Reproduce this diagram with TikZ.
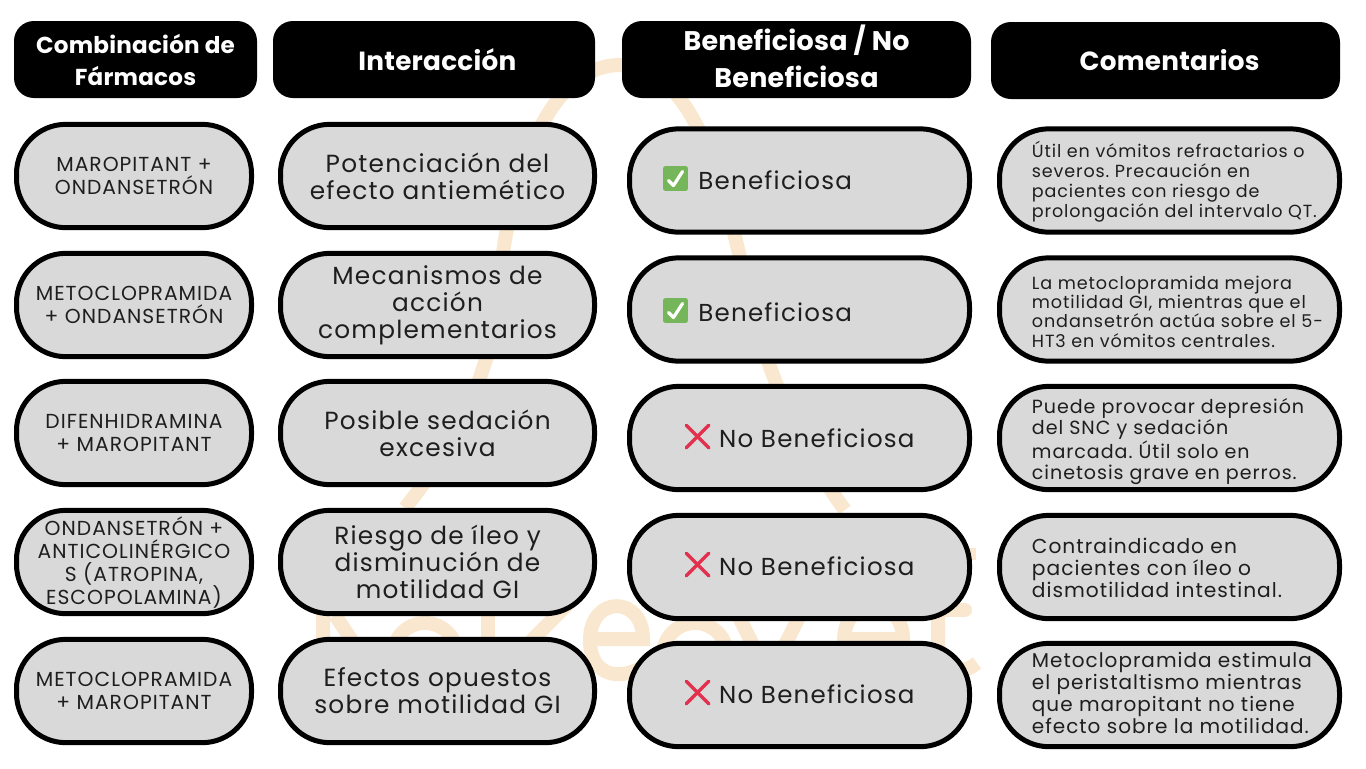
\documentclass[tikz,border=0pt]{standalone}
\usepackage{fontspec}
\usepackage{xcolor}
\usepackage{tikz}
\usetikzlibrary{positioning}
\setmainfont{Poppins}[LetterSpace=5]
\definecolor{pillgrey}{HTML}{D9D9D9}
\definecolor{inkgrey}{HTML}{1E1E1E}
\definecolor{paleorange}{HTML}{F9E8CF}
\definecolor{okgreen}{HTML}{76B65B}
\definecolor{nored}{HTML}{E3304E}
\tikzset{
    headbox/.style={fill=black, text=white, rounded corners=15pt, minimum height=57.75pt,
        align=center, inner sep=0pt, font=\bfseries\addfontfeature{LetterSpace=1}\fontsize{19.7}{27.75}\selectfont},
    headtext/.style={text=white, align=center, inner sep=0pt, font=\bfseries\addfontfeature{LetterSpace=1}\fontsize{20.2}{27.75}\selectfont},
    pillbox/.style={draw=black, line width=3.75pt, fill=pillgrey, text=inkgrey, rounded corners=37pt,
        minimum height=77.5pt, align=center, inner sep=0pt},
    drugbox/.style={pillbox, minimum width=176.25pt, font=\fontsize{15.2}{17.25}\selectfont},
    interbox/.style={pillbox, minimum width=235.5pt, font=\fontsize{18.6}{20.25}\selectfont},
    benefbox/.style={pillbox, minimum width=255pt},
    notebox/.style={pillbox, minimum width=255pt},
    notetext/.style={inner sep=0pt, align=left, text=inkgrey},
    okmark/.style={fill=okgreen, rounded corners=1.5pt, minimum size=18.5pt, inner sep=0pt},
    nomark/.style={minimum size=16.5pt, inner sep=0pt},
    marktext/.style={inner sep=0pt, yshift=-1pt, text=inkgrey, font=\fontsize{18.4}{22}\selectfont},
    okstroke/.style={draw=white, line width=2.4pt, line cap=round, line join=round},
    nostroke/.style={draw=nored, line width=2.6pt, line cap=round},
    wmark/.style={draw=paleorange, line width=10.5pt}
}
\newcommand{\okcheck}[1]{\draw[okstroke] ([shift={(-7,2)}]#1.center) -- ([shift={(-2,7)}]#1.center) -- ([shift={(7,-7)}]#1.center);}
\newcommand{\nocross}[1]{\draw[nostroke] (#1.north west) -- (#1.south east); \draw[nostroke] (#1.north east) -- (#1.south west);}
\frenchspacing
\begin{document}
\begin{tikzpicture}[x=0.75pt, y=-0.75pt]
    \useasboundingbox (0,0) rectangle (1366,768);

    % Watermark behind the table
    \draw[wmark] (405,508) .. controls (460,440) and (490,370) .. (498,300)
        .. controls (505,190) and (545,65) .. (620,65)
        .. controls (695,65) and (725,190) .. (745,280)
        .. controls (765,370) and (800,450) .. (845,510);
    \draw[wmark] (323,560) -- (323,680) (335,615) -- (375,675);
    \draw[wmark] (425,655) circle (32);
    \draw[wmark] (488,560) -- (488,680);
    \draw[wmark] (505,607) -- (565,607) -- (500,672) -- (565,672);
    \draw[wmark] (645,665) .. controls (625,680) and (590,680) .. (590,640)
        .. controls (590,595) and (643,595) .. (643,639) -- (590,639);
    \draw[wmark] (695,655) circle (32);
    \draw[wmark] (733,605) -- (769,677) -- (805,605);
    \draw[wmark] (905,665) .. controls (885,680) and (844,680) .. (844,640)
        .. controls (844,595) and (903,595) .. (903,639) -- (844,639);
    \draw[wmark] (938,545) -- (938,645) .. controls (938,672) and (960,677) .. (977,663);
    \draw[wmark, line cap=round] (925,610) -- (965,610);
    \draw[wmark] (969,548) -- (969,560);

    % Header row
    \node[headbox, minimum width=182.25pt, font=\bfseries\addfontfeature{LetterSpace=1}\fontsize{17.3}{24}\selectfont] (headdrug) at (135.5,59.5) {Combinación de\\Fármacos};
    \node[headbox, minimum width=241.5pt] (headinter) at (434,59.5) {\hspace*{5pt}Interacción};
    \node[headbox, minimum width=261.75pt] (headbenef) at (796.5,59.5) {};
    \node[headtext] (headbenefT) at (796.5,56.5) {Beneficiosa / No\\Beneficiosa};
    \node[headbox, minimum width=261.75pt] (headnote) at (1165.5,60.5) {\hspace*{6pt}Comentarios};

    % Drug combinations
    \node[drugbox] (drugA) at (134,176) {MAROPITANT +\\ONDANSETRÓN};
    \node[drugbox] (drugB) at (134,305) {METOCLOPRAMIDA\\+ ONDANSETRÓN};
    \node[drugbox] (drugC) at (134,433) {DIFENHIDRAMINA\\+ MAROPITANT};
    \node[drugbox] (drugD) at (134,562) {ONDANSETRÓN +\\ANTICOLINÉRGICO\\S (ATROPINA,\\ESCOPOLAMINA)};
    \node[drugbox] (drugE) at (134,691) {METOCLOPRAMIDA\\+ MAROPITANT};

    % Interactions
    \node[interbox] (interA) at (437.5,176) {Potenciación del\\efecto antiemético};
    \node[interbox] (interB) at (437.5,305) {Mecanismos de\\acción\\complementarios};
    \node[interbox] (interC) at (437.5,433) {Posible sedación\\excesiva};
    \node[interbox] (interD) at (437.5,562) {Riesgo de íleo y\\disminución de\\motilidad GI};
    \node[interbox] (interE) at (437.5,691) {Efectos opuestos\\sobre motilidad GI};

    % Beneficial or not
    \node[benefbox] (benefA) at (799.5,180.5) {};
    \node[benefbox] (benefB) at (799.5,309.5) {};
    \node[benefbox] (benefC) at (799.5,438) {};
    \node[benefbox] (benefD) at (799.5,567) {};
    \node[benefbox] (benefE) at (799.5,695) {};
    \node[okmark] (okA) at (675.5,178.5) {};
    \node[okmark] (okB) at (675.5,310.5) {};
    \node[nomark] (noC) at (697.5,436.5) {};
    \node[nomark] (noD) at (697.5,564.5) {};
    \node[nomark] (noE) at (697.5,692.5) {};
    \okcheck{okA}
    \okcheck{okB}
    \nocross{noC}
    \nocross{noD}
    \nocross{noE}
    \node[marktext, right=7.5pt of okA] (textA) {Beneficiosa};
    \node[marktext, right=7.5pt of okB] (textB) {Beneficiosa};
    \node[marktext, right=7.5pt of noC] (textC) {No Beneficiosa};
    \node[marktext, right=7.5pt of noD] (textD) {No Beneficiosa};
    \node[marktext, right=7.5pt of noE] (textE) {No Beneficiosa};

    % Comments
    \node[notebox] (noteA) at (1169.5,180.5) {};
    \node[notebox] (noteB) at (1169.5,309.5) {};
    \node[notebox] (noteC) at (1169.5,438) {};
    \node[notebox] (noteD) at (1169.5,567) {};
    \node[notebox] (noteE) at (1169.5,695) {};
    \node[notetext, right=26pt of noteA.west, yshift=-0.6pt, font=\fontsize{13.15}{15}\selectfont] (lineA)
        {Útil en vómitos refractarios o\\severos. Precaución en\\pacientes con riesgo de\\prolongación del intervalo QT.};
    \node[notetext, right=26pt of noteB.west, yshift=-1.6pt, font=\fontsize{13.2}{14.6}\selectfont] (lineB)
        {La metoclopramida mejora\\motilidad GI, mientras que el\\ondansetrón actúa sobre el 5-\\HT3 en vómitos centrales.};
    \node[notetext, right=26pt of noteC.west, yshift=-2.75pt, font=\fontsize{14.3}{15.75}\selectfont] (lineC)
        {Puede provocar depresión\\del SNC y sedación\\marcada. Útil solo en\\cinetosis grave en perros.};
    \node[notetext, right=26pt of noteD.west, yshift=-1pt, font=\fontsize{15.15}{16.5}\selectfont] (lineD)
        {Contraindicado en\\pacientes con íleo o\\dismotilidad intestinal.};
    \node[notetext, right=26pt of noteE.west, yshift=1.5pt, font=\fontsize{15}{16.5}\selectfont] (lineE)
        {Metoclopramida estimula\\el peristaltismo mientras\\que maropitant no tiene\\efecto sobre la motilidad.};
\end{tikzpicture}
\end{document}
